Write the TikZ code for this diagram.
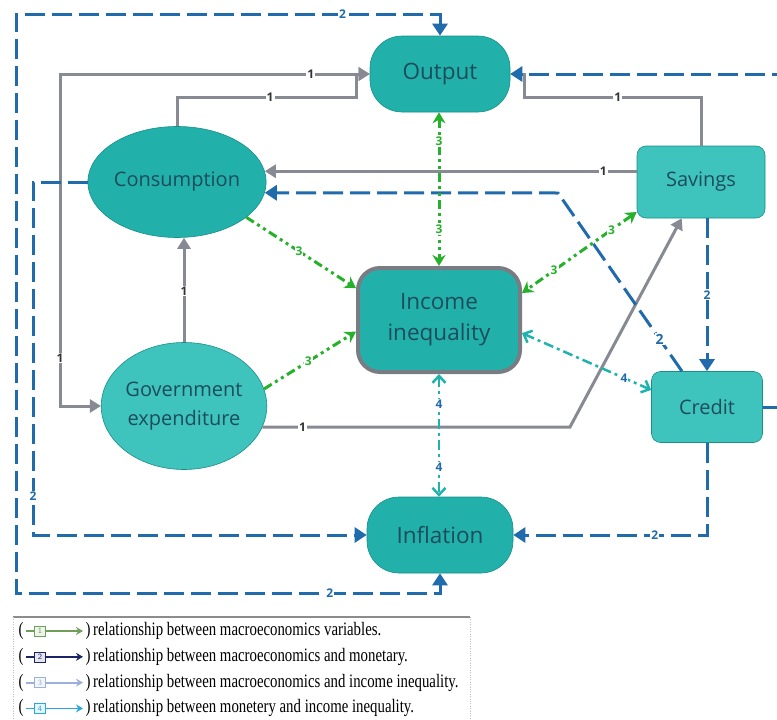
\documentclass[tikz,border=0pt]{standalone}
\usepackage{fontspec}
\setmainfont{Liberation Serif}
\newfontfamily\nodefont{Open Sans}
\usetikzlibrary{arrows.meta,shapes.geometric}

\definecolor{tealdark}{HTML}{21B1AA}
\definecolor{teallight}{HTML}{3FC3BD}
\definecolor{nodetext}{HTML}{1D4C5C}
\definecolor{relblue}{HTML}{1F6BAB}
\definecolor{relgray}{HTML}{878A92}
\definecolor{relgreen}{HTML}{25B12A}
\definecolor{relteal}{HTML}{1FB3AD}
\definecolor{legA}{HTML}{6E9E58}
\definecolor{legB}{HTML}{1C2468}
\definecolor{legC}{HTML}{9CB0DC}
\definecolor{legD}{HTML}{28A8E0}

\begin{document}
\begin{tikzpicture}[x=1pt,y=-1pt,
  var/.style={fill=tealdark,draw=tealdark!80!black,line width=0.6pt,text=nodetext,
    font=\nodefont\fontsize{20}{29}\selectfont,align=center,inner sep=0pt},
  pill/.style={var,rectangle,rounded corners=32pt,minimum width=140pt,minimum height=76pt,
    font=\nodefont\fontsize{22.5}{31}\selectfont},
  oval/.style={var,ellipse},
  box/.style={var,rectangle,rounded corners=9pt,fill=teallight},
  lbl/.style={fill=white,inner sep=1pt,font=\nodefont\fontsize{12}{12}\selectfont\bfseries},
  macro/.style={relgray,line width=3pt,>={Triangle[width=13pt,length=11pt]},
    every node/.append style={text=black!80}},
  money/.style={relblue,line width=3pt,dash pattern=on 20pt off 7pt,
    >={Triangle[width=15pt,length=12pt]}},
  ineq/.style={relgreen,line width=3pt,dash pattern=on 9pt off 4pt on 3pt off 4pt on 3pt off 4pt,
    >={Stealth[width=13pt,length=11pt]}},
  moneq/.style={relteal,line width=2.5pt,dash pattern=on 10pt off 4pt on 3pt off 4pt,
    >={Straight Barb[width=13pt,length=7pt]},every node/.append style={text=relblue}},
  legtext/.style={font=\fontsize{19}{19}\selectfont,inner sep=0pt}
]
\useasboundingbox (0,0) rectangle (777,720);
\clip (0,0) rectangle (777,720);

\node[pill] (output) at (440,74) {Output};
\node[oval,minimum width=170pt,minimum height=111pt] (cons) at (177,182) {Consumption};
\node[box,minimum width=128pt,minimum height=72pt] (sav) at (701,182) {Savings};
\node[var,rectangle,rounded corners=22pt,minimum width=162pt,minimum height=104pt,
  draw=relgray!90!black,line width=4pt,font=\nodefont\fontsize{22.5}{31}\selectfont] (ineq) at (439,320) {Income\\inequality};
\node[oval,fill=teallight,minimum width=162pt,minimum height=127pt] (gov) at (184,406) {Government\\expenditure};
\node[box,minimum width=111pt,minimum height=71pt] (credit) at (707,407) {Credit};
\node[pill,minimum width=146pt] (infl) at (440,535) {Inflation};

\draw[macro,<->] (output.west) -- node[lbl,pos=0.19]{1} (60,74) -- node[lbl,pos=0.855]{1} (60,406) -- (gov.west);
\draw[macro,->] (cons.north) -- (cons.north |- 0,97) -- node[lbl,pos=0.52]{1} (356,97) -- (356,74) -- (output.west);
\draw[macro,->] (sav.north) -- (sav.north |- 0,97) -- node[lbl,pos=0.47]{1} (524,97) -- (524,74) -- (output.east);
\draw[macro,->] (sav.west |- cons.7) -- node[lbl,pos=0.09]{1} (cons.7);
\draw[macro,->] (gov.north) -- node[lbl,pos=0.49]{1} (cons.south -| gov.north);
\draw[macro,->] (gov.-15) -- node[lbl,pos=0.13]{1} (570,427) -- (sav.242);

\draw[money,<->] (output.north) -- (output.north |- 0,14) -- node[lbl,pos=0.23]{2} (16,14) -- (16,593)
  -- node[lbl,pos=0.74]{2} (infl.south |- 0,593) -- (infl.south);
\draw[money,->] (credit.east) -- (800,407) -- (800,74) -- (output.east);
\draw[money,->] (credit.125) -- node[lbl,pos=0.18,font=\nodefont\fontsize{14}{14}\selectfont\bfseries]{2} (558,193) -- (cons.-7);
\draw[money,->] (sav.south -| credit.north) -- node[lbl,pos=0.5]{2} (credit.north);
\draw[money,->] (credit.south) -- (credit.south |- infl.east) -- node[lbl,pos=0.27]{2} (infl.east);
\draw[money,->] (cons.west) -- (33,182) -- node[lbl,pos=0.89]{2} (33,535) -- (infl.west);

\draw[ineq,->] (cons.-27) -- node[lbl,pos=0.48]{3} (ineq.159);
\draw[ineq,->] (gov.12) -- node[lbl,pos=0.48]{3} (ineq.188);
\draw[ineq,<->] (output.south -| ineq.north) -- node[lbl,pos=0.19]{3} node[lbl,pos=0.76]{3} (ineq.north);
\draw[ineq,<->] (sav.205) -- node[lbl,pos=0.22]{3} node[lbl,pos=0.72]{3} (ineq.18);

\draw[moneq,<->] (ineq.-9) -- node[lbl,pos=0.79]{4} (credit.163);
\draw[moneq,<->] (ineq.south) -- node[lbl,pos=0.25]{4} node[lbl,pos=0.76]{4} (infl.north -| ineq.south);

\draw[gray!90,line width=1.5pt] (13,617) -- (470,617);
\draw[gray!50,dotted] (13,617) -- (13,725) (470,617) -- (470,725);
\foreach \c/\n/\t [count=\i] in {legA/1/{relationship between macroeconomics variables.},
    legB/2/{relationship between macroeconomics and monetary.},
    legC/3/{relationship between macroeconomics and income inequality.},
    legD/4/{relationship between monetery and income inequality.}}{
  \node[legtext] (lo\i) at (21,605.2+25.8*\i) {\scalebox{0.78}[1]{(}};
  \node[draw=\c,fill=\c!12,text=\c,minimum width=11pt,minimum height=10pt,inner sep=0pt,
    font=\sffamily\fontsize{8}{8}\selectfont] (lb\i) at (40,605.2+25.8*\i) {\n};
  \coordinate (ls\i) at (26,605.2+25.8*\i);
  \coordinate (le\i) at (83,605.2+25.8*\i);
  \draw[\c,line width=1.8pt] (ls\i) -- (lb\i);
  \draw[\c,line width=1.8pt,-{Stealth[length=7pt,width=8pt]}] (lb\i) -- (le\i);
  \node[legtext] (lc\i) at (88,605.2+25.8*\i) {\scalebox{0.78}[1]{)}};
  \node[legtext,anchor=west] (lt\i) at (93,605.2+25.8*\i) {\scalebox{0.78}[1]{\t}};
}
\end{tikzpicture}
\end{document}
